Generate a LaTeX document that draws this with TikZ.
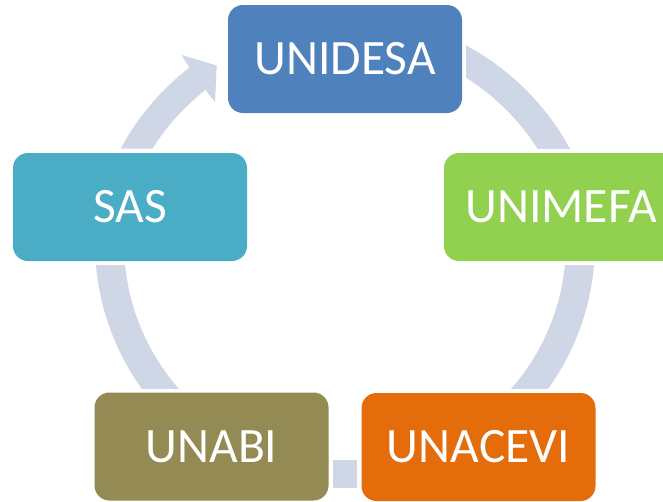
\documentclass[tikz,border=0pt]{standalone}
\usepackage{fontspec}
\setmainfont{Carlito}
\definecolor{ringc}{HTML}{CFD6E6}
\definecolor{c1}{HTML}{4F81BD}
\definecolor{c2}{HTML}{92D050}
\definecolor{c3}{HTML}{E46C0A}
\definecolor{c4}{HTML}{948A54}
\definecolor{c5}{HTML}{4BACC6}
\tikzset{
  box/.style={fill=#1,draw=none,rounded corners=15pt,minimum width=234pt,minimum height=108pt,inner sep=0pt,text=white,font=\fontsize{49.5}{58}\selectfont,anchor=center},
  ringpart/.style={fill=ringc,draw=none,even odd rule}
}
\begin{document}
\begin{tikzpicture}[x=1pt,y=-1pt]
\useasboundingbox (0,0) rectangle (663,501);
\clip (0,0) rectangle (663,501);
% arcs
\begin{scope}
\clip (466,0) rectangle (663,148);
\fill[ringpart] (345,271) circle[radius=256pt] (345,271) circle[radius=228pt];
\end{scope}
\begin{scope}
\clip (500,265) rectangle (663,388);
\fill[ringpart] (345,243) circle[radius=250pt] (345,243) circle[radius=221pt];
\end{scope}
\fill[ringc] (333,460) rectangle (357,488);
\begin{scope}
\clip (0,265) rectangle (345,388);
\fill[ringpart] (345,243) circle[radius=250pt] (345,243) circle[radius=221pt];
\end{scope}
\begin{scope}
\clip (100,148.7) -- (216,148.7) -- (216,101) -- (183,55.7) -- (100,55.7) -- cycle;
\fill[ringpart] (345,269) circle[radius=254.5pt] (345,269) circle[radius=227pt];
\end{scope}
\fill[ringc] (181.7,55) -- (216.7,65.5) -- (215,102) -- (206,90.7) -- (189.3,67.7) -- cycle;
% boxes
\node[box=c1] (unidesa) at (345,59) {UNIDESA};
\node[box=c2] (unimefa) at (561,207) {UNIMEFA};
\node[box=c3] (unacevi) at (478.5,447) {UNACEVI};
\node[box=c4] (unabi) at (211.5,446.5) {UNABI};
\node[box=c5] (sas) at (130,207) {SAS};
\end{tikzpicture}
\end{document}
